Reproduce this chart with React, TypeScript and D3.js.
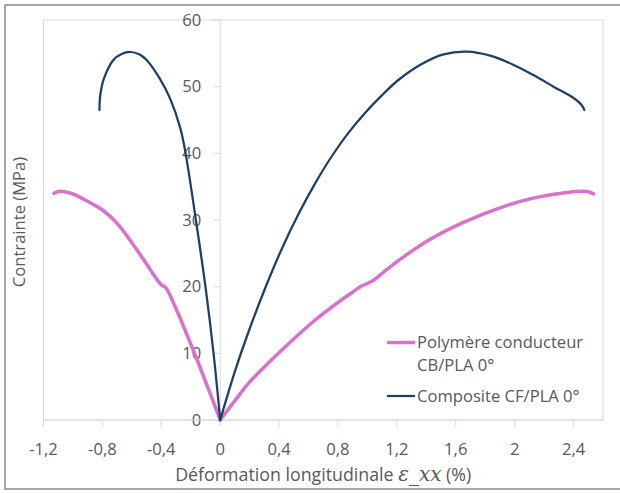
import React from 'react';
import * as d3 from 'd3';

// strain (%) / stress (MPa)
const compositeLeftX = [0, -0.045, -0.1, -0.165, -0.235, -0.27, -0.34, -0.41, -0.5, -0.55, -0.61, -0.67, -0.725, -0.79, -0.815, -0.82];
const compositeLeftY = [0, 10, 20, 30, 40, 43.7, 48.2, 51.2, 54, 54.85, 55.2, 54.9, 54, 51.2, 48.6, 46.5];
const compositeRightX = [0, 0.1, 0.192, 0.306, 0.419, 0.532, 0.645, 0.759, 0.872, 0.985, 1.098, 1.21, 1.36, 1.517, 1.676, 1.834, 1.99, 2.13, 2.264, 2.4, 2.44, 2.465, 2.473];
const compositeRightY = [0, 7.3, 13.2, 19.8, 25.7, 30.9, 35.5, 39.6, 43.1, 46.1, 48.7, 51, 53.3, 54.85, 55.25, 54.65, 53.3, 51.7, 50, 48.3, 47.6, 46.9, 46.5];

const polymerLeftX = [0, -0.1, -0.2, -0.3, -0.37, -0.4, -0.43, -0.5, -0.6, -0.7, -0.8, -0.9, -1.0, -1.09, -1.128];
const polymerLeftY = [0, 5.8, 11.4, 16.7, 19.85, 20.3, 21.1, 23.4, 26.6, 29.5, 31.5, 32.8, 33.9, 34.3, 34];
const polymerRightX = [0, 0.1, 0.192, 0.419, 0.645, 0.9, 0.97, 1.03, 1.1, 1.21, 1.438, 1.664, 1.89, 2.117, 2.344, 2.502, 2.536];
const polymerRightY = [0, 2.9, 5.5, 10.5, 15, 19.2, 20.2, 20.8, 22, 23.9, 27.25, 29.75, 31.75, 33.25, 34.1, 34.25, 33.9];

const xTicks = [-1.2, -0.8, -0.4, 0, 0.4, 0.8, 1.2, 1.6, 2, 2.4];
const yTicks = [0, 10, 20, 30, 40, 50, 60];

const seriesNames = ['Polymère conducteur', 'CB/PLA 0°', 'Composite CF/PLA 0°'];

const W = 620;
const H = 493;
const plot = { left: 43.5, right: 603, top: 20, bottom: 420 };
const FONT = "'Open Sans', 'Liberation Sans', sans-serif";
const FS = 16.6;
const GREY = '#595959';
const PINK = '#d96fcf';
const NAVY = '#1d3f63';

const fmt = (v: number) => String(v).replace('.', ',');

export default function App() {
  const x = d3.scaleLinear().domain([-1.2, 2.6]).range([plot.left, plot.right]);
  const y = d3.scaleLinear().domain([0, 60]).range([plot.bottom, plot.top]);

  const line = d3.line<[number, number]>()
    .x(d => x(d[0]))
    .y(d => y(d[1]))
    .curve(d3.curveCatmullRom.alpha(0.5));

  const pts = (xs: number[], ys: number[]) => xs.map((v, i) => [v, ys[i]] as [number, number]);

  const x0 = x(0);

  return (
    <svg width={W} height={H} style={{ position: 'absolute', left: 0, top: 0, background: '#fff' }}>
      <rect x={5} y={5} width={W} height={484} fill="#fff" stroke="#8a8a8a" strokeWidth={1.5} />

      {/* plot area frame */}
      <rect x={plot.left} y={plot.top} width={plot.right - plot.left} height={plot.bottom - plot.top}
        fill="none" stroke="#d9d9d9" strokeWidth={1} />

      {/* y axis at x = 0 */}
      <line x1={x0} x2={x0} y1={plot.top} y2={plot.bottom} stroke="#d9d9d9" strokeWidth={1} />
      {yTicks.map(t => (
        <g key={t}>
          <line x1={x0 - 7} x2={x0} y1={y(t)} y2={y(t)} stroke="#d9d9d9" />
          <text x={x0 - 19} y={y(t)} dy="0.35em" textAnchor="end" fontSize={FS} fill={GREY} fontFamily={FONT}>{t}</text>
        </g>
      ))}

      {/* x axis */}
      <line x1={plot.left} x2={plot.right} y1={plot.bottom} y2={plot.bottom} stroke="#d9d9d9" />
      {xTicks.map(t => (
        <g key={t}>
          <line x1={x(t)} x2={x(t)} y1={plot.bottom} y2={plot.bottom + 7} stroke="#d9d9d9" />
          <text x={x(t)} y={449} dy="0.35em" textAnchor="middle" fontSize={FS} fill={GREY} fontFamily={FONT}>{fmt(t)}</text>
        </g>
      ))}

      <text x={(plot.left + plot.right) / 2} y={481} textAnchor="middle" fontSize={17.8} fill={GREY} fontFamily={FONT}>
        Déformation longitudinale <tspan fontFamily="'DejaVu Serif', serif" fontStyle="italic" fontSize={20}>ε_xx</tspan> (%)
      </text>
      <text transform={`translate(25,222) rotate(-90)`} textAnchor="middle"
        fontSize={FS} fill={GREY} fontFamily={FONT}>Contrainte (MPa)</text>

      {/* curves */}
      <path d={line(pts(polymerLeftX, polymerLeftY)) || ''} fill="none" stroke={PINK} strokeWidth={3.5} strokeLinecap="round" strokeLinejoin="round" />
      <path d={line(pts(polymerRightX, polymerRightY)) || ''} fill="none" stroke={PINK} strokeWidth={3.5} strokeLinecap="round" strokeLinejoin="round" />
      <path d={line(pts(compositeLeftX, compositeLeftY)) || ''} fill="none" stroke={NAVY} strokeWidth={2.25} strokeLinecap="round" strokeLinejoin="round" />
      <path d={line(pts(compositeRightX, compositeRightY)) || ''} fill="none" stroke={NAVY} strokeWidth={2.25} strokeLinecap="round" strokeLinejoin="round" />

      {/* legend */}
      <line x1={387} x2={415} y1={342.5} y2={342.5} stroke={PINK} strokeWidth={3.5} />
      <text x={417} y={342} dy="0.35em" fontSize={FS} fill={GREY} fontFamily={FONT}>{seriesNames[0]}</text>
      <text x={417} y={365} dy="0.35em" fontSize={FS} fill={GREY} fontFamily={FONT}>{seriesNames[1]}</text>
      <line x1={387} x2={415} y1={396} y2={396} stroke={NAVY} strokeWidth={2.25} />
      <text x={417} y={396} dy="0.35em" fontSize={FS} fill={GREY} fontFamily={FONT}>{seriesNames[2]}</text>
    </svg>
  );
}
